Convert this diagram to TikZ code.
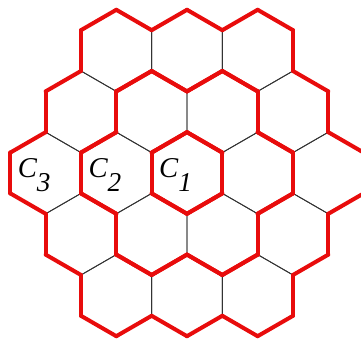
\documentclass[tikz,border=0pt]{standalone}
\usepackage{fontspec}
\setmainfont{Liberation Serif}
\definecolor{ringred}{RGB}{232,12,12}
\newcommand{\cellname}[1]{C\raisebox{-10pt}{\fontsize{19}{21}\selectfont #1}}

\begin{document}
\begin{tikzpicture}[
    gridline/.style={draw=black!80,line width=0.6pt},
    ringline/.style={draw=ringred,line width=2.8pt,line cap=round},
    celllabel/.style={font=\fontsize{20}{22}\selectfont\itshape,inner sep=0pt}]
  \useasboundingbox (-4.583,-4.093) rectangle (4.265,4.240);
  % thin outlines of all cells
  \foreach \q in {-2,...,2}{
    \foreach \r in {-2,...,2}{
      \pgfmathtruncatemacro{\ring}{max(abs(\q),abs(\r),abs((\q)+(\r)))}
      \ifnum\ring<3
        \draw[gridline,shift={({sqrt(3)*((\q)+(\r)/2)},{-1.5*(\r)})}]
          (30:1) -- (90:1) -- (150:1) -- (210:1) -- (270:1) -- (330:1) -- cycle;
      \fi
    }
  }
  % red edges between rings
  \foreach \q in {-2,...,2}{
    \foreach \r in {-2,...,2}{
      \pgfmathtruncatemacro{\ring}{max(abs(\q),abs(\r),abs((\q)+(\r)))}
      \ifnum\ring<3
        \foreach \dq/\dr/\a in {1/0/0,1/-1/60,0/-1/120,-1/0/180,-1/1/240,0/1/300}{
          \pgfmathtruncatemacro{\nring}{max(abs((\q)+(\dq)),abs((\r)+(\dr)),abs((\q)+(\dq)+(\r)+(\dr)))}
          \ifnum\nring=\ring\else
            \draw[ringline,shift={({sqrt(3)*((\q)+(\r)/2)},{-1.5*(\r)})}]
              ({\a-30}:1) -- ({\a+30}:1);
          \fi
        }
      \fi
    }
  }
  % labels
  \node[celllabel] (c1) at (-0.28,-0.05) {\cellname{1}};
  \node[celllabel] (c2) at (-2.012,-0.05) {\cellname{2}};
  \node[celllabel] (c3) at (-3.744,-0.05) {\cellname{3}};
\end{tikzpicture}
\end{document}
